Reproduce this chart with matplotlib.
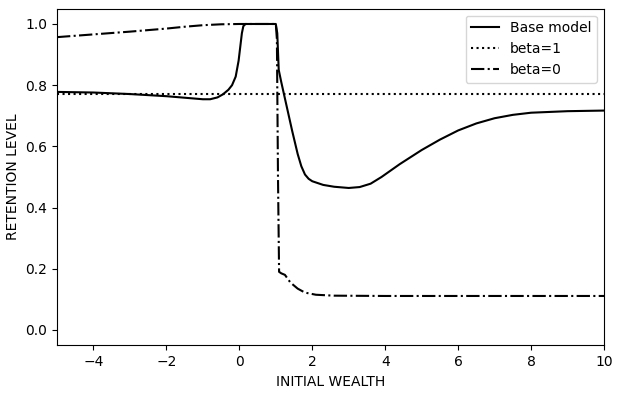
import matplotlib
matplotlib.use("Agg")
import matplotlib.pyplot as plt

# base model (solid)
base_x = [-5, -4, -3, -2, -1.5, -1.0, -0.8, -0.6, -0.45, -0.3, -0.2, -0.1, -0.02, 0.03, 0.07, 0.11, 0.17,
          1.0, 1.04, 1.08, 1.15, 1.3, 1.45, 1.6, 1.7, 1.8, 1.9, 2.0, 2.3, 2.6, 3.0, 3.3, 3.6, 3.9,
          4.4, 5.0, 5.5, 6.0, 6.5, 7.0, 7.5, 8.0, 9.0, 10.0]
base_y = [0.778, 0.776, 0.771, 0.764, 0.759, 0.754, 0.754, 0.760, 0.770, 0.785, 0.80, 0.828, 0.88, 0.93, 0.97, 0.993, 1.0,
          1.0, 0.97, 0.85, 0.81, 0.73, 0.65, 0.575, 0.535, 0.508, 0.494, 0.486, 0.474, 0.468, 0.464, 0.467, 0.478, 0.50,
          0.542, 0.588, 0.622, 0.652, 0.675, 0.692, 0.703, 0.710, 0.715, 0.717]

# beta = 1 (dotted)
b1_x = [-5, 10]
b1_y = [0.772, 0.772]

# beta = 0 (dash-dot)
b0_x = [-5, -4, -3, -2, -1.5, -1, -0.5, 0, 1.0, 1.03, 1.06, 1.09, 1.15, 1.25, 1.4, 1.6, 1.8, 2.1, 2.6, 4, 10]
b0_y = [0.957, 0.966, 0.975, 0.985, 0.991, 0.996, 0.999, 1.0, 1.0, 0.95, 0.5, 0.19, 0.185, 0.18, 0.155,
        0.135, 0.122, 0.115, 0.112, 0.111, 0.111]

fig = plt.figure(figsize=(6.23, 3.95), dpi=100)
ax = fig.add_axes([0.0915, 0.126, 0.878, 0.852])
ax.plot(base_x, base_y, color='black', linestyle='-', label='Base model')
ax.plot(b1_x, b1_y, color='black', linestyle=':', label='beta=1')
ax.plot(b0_x, b0_y, color='black', linestyle='-.', label='beta=0')
ax.set_xlim(-5, 10)
ax.set_ylim(-0.05, 1.05)
ax.set_xlabel('INITIAL WEALTH')
ax.set_ylabel('RETENTION LEVEL')
ax.legend(loc='upper right')

fig.savefig('out.png', dpi=100)
